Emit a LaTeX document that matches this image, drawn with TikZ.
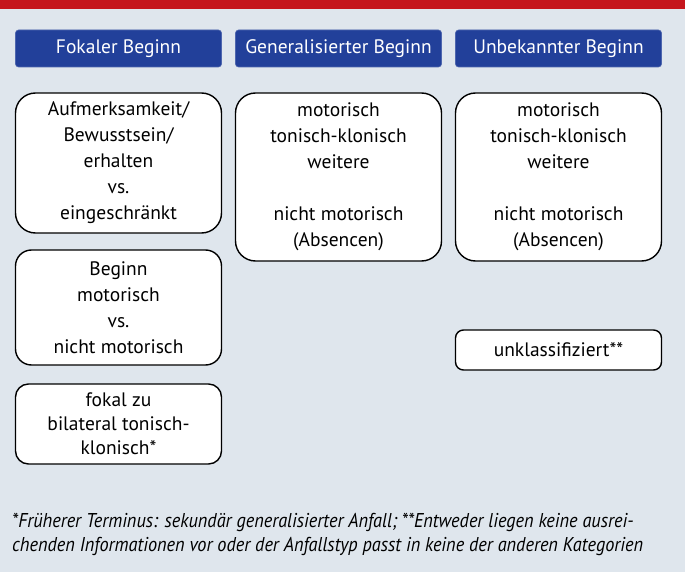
\documentclass[tikz,border=0pt]{standalone}
\usepackage{fontspec}
\setmainfont{PT Sans}
\newfontfamily\footfont[FakeStretch=0.915]{PT Sans}
\definecolor{bandred}{HTML}{C5161D}
\definecolor{bggrey}{HTML}{DFE6ED}
\definecolor{headblue}{HTML}{22409A}
\tikzset{
  head/.style={draw=headblue!80!white, line width=0.6pt, fill=headblue, rounded corners=3pt,
    minimum width=206pt, minimum height=37pt, text=white, font=\fontsize{19.5}{22}\selectfont, inner sep=0pt},
  cbox/.style={draw=black, line width=1.4pt, fill=white, minimum width=206pt, align=center,
    font=\fontsize{19.5}{26}\selectfont, inner sep=0pt},
}
\begin{document}
\begin{tikzpicture}[x=1pt,y=-1pt]
\useasboundingbox (0,0) rectangle (685,572);
\fill[bggrey] (0,0) rectangle (685,572);
\fill[bandred] (0,0) rectangle (685,9);
\node[head] (hf) at (118.5,48.5) {Fokaler Beginn};
\node[head] (hg) at (338.5,48.5) {Generalisierter Beginn};
\node[head] (hu) at (558.5,48.5) {Unbekannter Beginn};
\node[cbox, minimum height=140pt, rounded corners=20pt] (f1) at (118.5,163) {Aufmerksamkeit/\\Bewusstsein/\\erhalten\\vs.\\eingeschränkt};
\node[cbox, minimum height=115pt, rounded corners=16pt] (f2) at (118.5,307.5) {Beginn\\motorisch\\vs.\\nicht motorisch};
\node[cbox, minimum height=80pt, rounded corners=13pt, font=\fontsize{19.5}{24}\selectfont] (f3) at (118.5,424) {fokal zu\\bilateral tonisch-\\klonisch*};
\node[cbox, minimum height=168pt, rounded corners=20pt] (g1) at (338.5,177) {motorisch\\tonisch-klonisch\\weitere\\[26pt]nicht motorisch\\(Absencen)};
\node[cbox, minimum height=168pt, rounded corners=20pt] (u1) at (558.5,177) {motorisch\\tonisch-klonisch\\weitere\\[26pt]nicht motorisch\\(Absencen)};
\node[cbox, minimum height=40pt, rounded corners=8pt] (u2) at (558.5,350) {unklassifiziert**};
\node[anchor=west, inner sep=0pt, align=left, font=\footfont\itshape\fontsize{20}{24}\selectfont] (fn) at (12,534) {*Früherer Terminus: sekundär generalisierter Anfall; **Entweder liegen keine ausrei-\\chenden Informationen vor oder der Anfallstyp passt in keine der anderen Kategorien};
\end{tikzpicture}
\end{document}
